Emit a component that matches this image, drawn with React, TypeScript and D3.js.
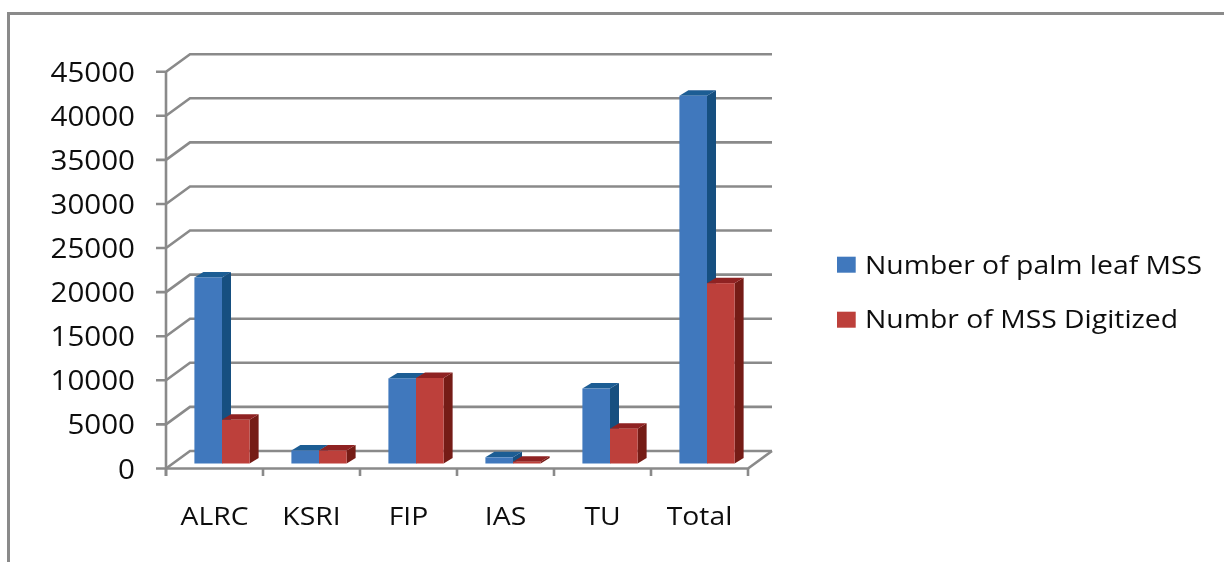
import React from "react";
import * as d3 from "d3";

const categories = ["ALRC", "KSRI", "FIP", "IAS", "TU", "Total"];
const palmLeaf = [21100, 1480, 9650, 700, 8500, 41700];
const digitized = [4950, 1480, 9700, 200, 3950, 20450];
const yTicks = [0, 5000, 10000, 15000, 20000, 25000, 30000, 35000, 40000, 45000];
const legendLabels = ["Number of palm leaf MSS", "Numbr of MSS Digitized"];

const gray = "#8a8a8a";
const font = "'Open Sans', sans-serif";
const DX = 24, DY = 17.5;
const barDX = 9, barDY = 5.5;
const stretch = 1.09;

const y = d3.scaleLinear().domain([0, 45000]).range([468.5, 71.7]);
const x = d3.scaleBand<string>().domain(categories).range([166, 748]);
const tickXs = [...categories.map((c) => x(c)!), 748];

function Bar({ x0, w, v, front, side, top }: { x0: number; w: number; v: number; front: string; side: string; top: string }) {
  const b = y(0) - 5;
  const t = y(v) - 5;
  return (
    <g>
      <polygon points={`${x0 + w},${b} ${x0 + w + barDX},${b - barDY} ${x0 + w + barDX},${t - barDY} ${x0 + w},${t}`} fill={side} />
      <polygon points={`${x0},${t} ${x0 + barDX},${t - barDY} ${x0 + w + barDX},${t - barDY} ${x0 + w},${t}`} fill={top} />
      <rect x={x0} y={t} width={w} height={b - t} fill={front} />
    </g>
  );
}

export default function App() {
  const bw = 27.6;
  return (
    <svg width={1224} height={562} style={{ position: "fixed", left: 0, top: 0, background: "#fff" }}>
      <defs>
        <filter id="soft" x="-5%" y="-5%" width="110%" height="110%">
          <feGaussianBlur stdDeviation="0.7" />
        </filter>
      </defs>
      <g filter="url(#soft)">
        <path d="M8.5,562 V13.5 H1224" fill="none" stroke={gray} strokeWidth={3} />
        {yTicks.map((t) => (
          <g key={t}>
            <path
              d={`M156,${y(t)} H166 L${166 + DX},${y(t) - DY} H${748 + DX}`}
              fill="none"
              stroke={gray}
              strokeWidth={2.6}
            />
            <text
              x={135}
              y={y(t) + 10}
              textAnchor="end"
              fontFamily={font}
              fontSize={28}
              fill="#111"
              textLength={String(t).length * 16.9}
              lengthAdjust="spacingAndGlyphs"
            >
              {t}
            </text>
          </g>
        ))}
        <path d={`M166,${y(45000)} V476`} stroke={gray} strokeWidth={2.6} fill="none" />
        <path d={`M166,${y(0)} H748 L772,${y(0) - DY}`} stroke={gray} strokeWidth={2.6} fill="none" />
        {tickXs.map((tx) => (
          <path key={tx} d={`M${tx},${y(0)} V476`} stroke={gray} strokeWidth={2.6} fill="none" />
        ))}
        {categories.map((c, i) => {
          const cx = x(c)! + x.bandwidth() / 2 + 7.5;
          return (
            <g key={c}>
              <Bar x0={cx - bw} w={bw} v={palmLeaf[i]} front="#3f78bd" side="#174f80" top="#1f5d94" />
              <Bar x0={cx} w={bw} v={digitized[i]} front="#bd3f3a" side="#751a15" top="#8f2420" />
            </g>
          );
        })}
        {categories.map((c) => (
          <text
            key={c}
            transform={`translate(${x(c)! + x.bandwidth() / 2},525) scale(${stretch},1)`}
            textAnchor="middle"
            fontFamily={font}
            fontSize={26}
            fill="#111"
          >
            {c}
          </text>
        ))}
        {legendLabels.map((l, i) => (
          <g key={l}>
            <rect x={837} y={256.7 + i * 55} width={18.7} height={16} fill={i === 0 ? "#3f78bd" : "#bd3f3a"} />
            <text
              transform={`translate(865,${273.5 + i * 54.5}) scale(${stretch},1)`}
              fontFamily={font}
              fontSize={26}
              fill="#111"
            >
              {l}
            </text>
          </g>
        ))}
      </g>
    </svg>
  );
}
